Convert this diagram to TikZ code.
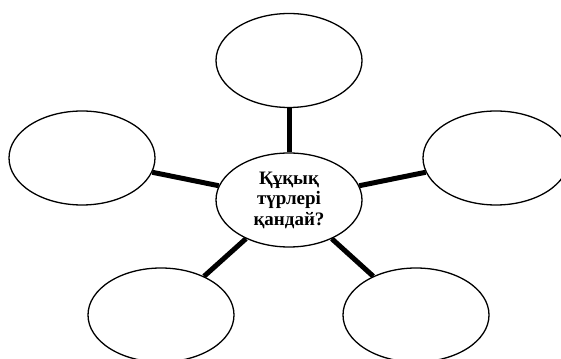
\documentclass[tikz,border=0pt]{standalone}
\usepackage{fontspec}
\setmainfont{Liberation Serif}
\usetikzlibrary{shapes.geometric}
\tikzset{
    blob/.style={draw, ellipse, line width=1.3pt, minimum width=146pt, minimum height=94pt, inner sep=0pt},
    spoke/.style={line width=5pt},
}

\begin{document}
\begin{tikzpicture}[x=1pt,y=1pt]
    \useasboundingbox (0,0) rectangle (561,358);
    \clip (0,0) rectangle (561,358);
    \node[blob, align=center, font=\bfseries\fontsize{19}{20.5}\selectfont] (centre) at (289,158) {Құқық\\түрлері\\қандай?};
    \node[blob] (top) at (289,297.5) {};
    \node[blob] (left) at (82,200) {};
    \node[blob] (right) at (496,200) {};
    \node[blob] (botleft) at (161,43) {};
    \node[blob] (botright) at (416,43) {};
    \foreach \n in {top,left,right,botleft,botright}
        \draw[spoke] (centre) -- (\n);
\end{tikzpicture}
\end{document}
